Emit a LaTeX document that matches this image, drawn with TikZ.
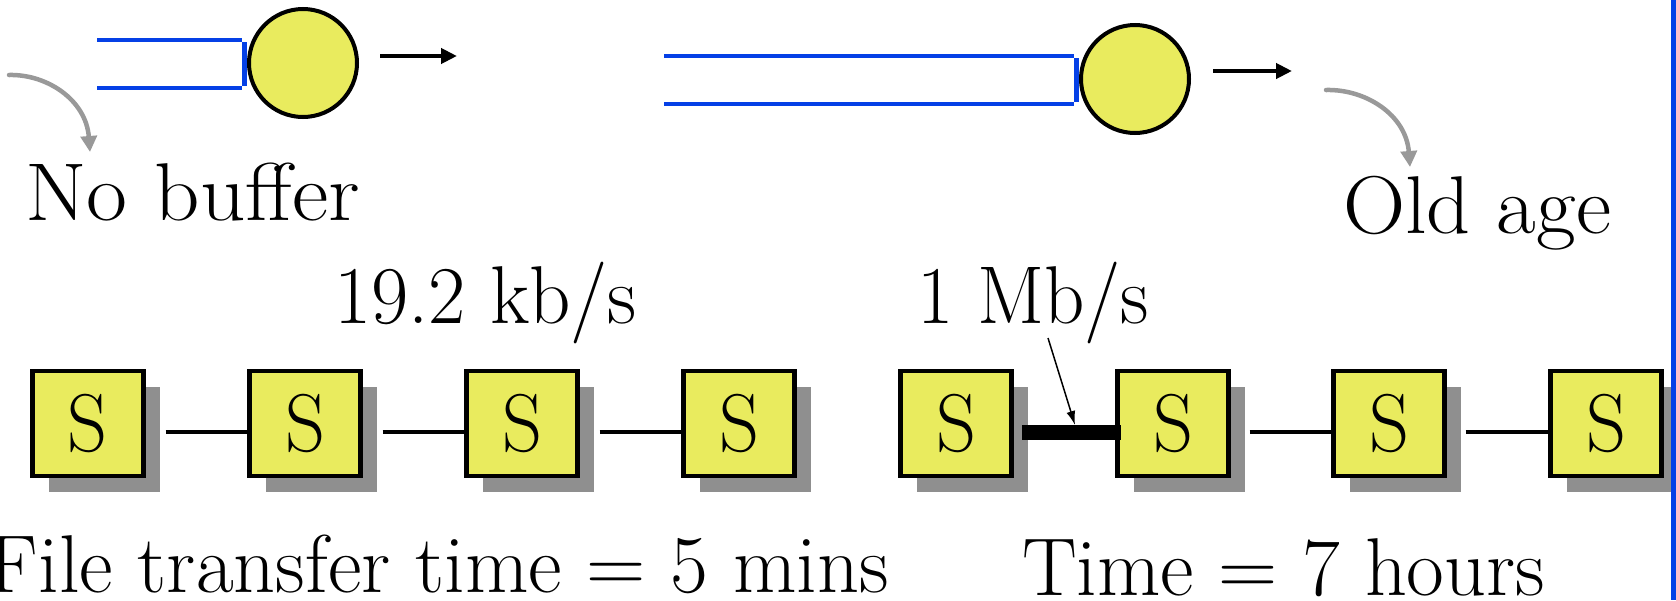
\documentclass[tikz,border=0pt]{standalone}
\usepackage{graphicx}
\usetikzlibrary{arrows.meta,shadows}
\definecolor{qyellow}{RGB}{233,235,94}
\definecolor{pipeblue}{RGB}{5,64,230}
\definecolor{shadowgray}{RGB}{143,143,143}
\definecolor{curvegray}{RGB}{153,153,153}
\newcommand{\fitw}[2]{\resizebox{#1}{\height}{#2}}
\begin{document}
\begin{tikzpicture}[x=1pt,y=-1pt,
  every node/.style={inner sep=0pt, outer sep=0pt},
  lbl/.style={font=\rmfamily\fontsize{82}{100}\selectfont},
  server/.style={circle, draw=black, line width=4pt, fill=qyellow, minimum size=108pt},
  pipe/.style={draw=pipeblue, line width=4.5pt},
  pipeend/.style={draw=pipeblue, line width=5pt},
  outarrow/.style={line width=4pt, -{Triangle[length=16pt,width=15pt]}},
  curvearrow/.style={draw=curvegray, line width=4.5pt, line cap=round, -{Triangle[length=16pt,width=16pt]}},
  sbox/.style={rectangle, draw=black, line width=4.5pt, fill=qyellow, minimum width=111pt, minimum height=105pt, font=\rmfamily\fontsize{82}{100}\selectfont, drop shadow={shadow xshift=16pt, shadow yshift=-16pt, fill=shadowgray, opacity=1}},
  link/.style={line width=4pt},
  fastlink/.style={line width=15pt},
  pointer/.style={line width=1.5pt, -{Latex[length=14pt,width=9pt]}}
]
\useasboundingbox (0,0) rectangle (1676,600);

% queues
\draw[pipe] (97,40) -- (242,40);
\draw[pipe] (97,88) -- (242,88);
\draw[pipeend] (244.5,42) -- (244.5,86);
\node[server] (q1) at (303,63) {};
\coordinate (o1s) at (380,56);
\coordinate (o1e) at (457,56);
\draw[outarrow] (o1s) -- (o1e);

\draw[pipe] (664,56) -- (1074,56);
\draw[pipe] (664,104) -- (1074,104);
\draw[pipeend] (1076.5,58) -- (1076.5,102);
\node[server] (q2) at (1135,79) {};
\coordinate (o2s) at (1213,71);
\coordinate (o2e) at (1292,71);
\draw[outarrow] (o2s) -- (o2e);

% labels
\node[lbl, anchor=base west] (nobuf) at (25,220) {\fitw{335pt}{No buffer}};
\node[lbl, anchor=base west] (oldage) at (1343,233) {\fitw{268pt}{Old age}};
\node[lbl, anchor=base west] (r1) at (334,323) {\fitw{303pt}{19.2 kb/s}};
\node[lbl, anchor=base west] (r2) at (917,323) {\fitw{232pt}{1 Mb/s}};
\node[lbl, anchor=base east] (t1) at (889,592) {\fitw{900pt}{File transfer time = 5 mins}};
\node[lbl, anchor=base west] (t2) at (1022,595) {\fitw{523pt}{Time = 7 hours}};

% curved gray arrows
\coordinate (c1s) at (9,75);
\coordinate (c1e) at (90,152);
\draw[curvearrow] (c1s) .. controls (47,74) and (86,100) .. (c1e);
\coordinate (c2s) at (1326,90);
\coordinate (c2e) at (1410,167);
\draw[curvearrow] (c2s) .. controls (1366,89) and (1406,115) .. (c2e);

% switches
\foreach \i/\x in {1/88,2/305,3/522,4/739,5/956,6/1173,7/1389,8/1606}
  \node[sbox] (s\i) at (\x,423.5) {\fitw{40pt}{S}};

% links
\draw[link] ([shift={(22,8.5)}]s1.east) -- ([shift={(0,8.5)}]s2.west);
\draw[link] ([shift={(22,8.5)}]s2.east) -- ([shift={(0,8.5)}]s3.west);
\draw[link] ([shift={(22,8.5)}]s3.east) -- ([shift={(0,8.5)}]s4.west);
\draw[fastlink] ([shift={(10.5,9)}]s5.east) -- ([shift={(3,9)}]s6.west);
\draw[link] ([shift={(21,8.5)}]s6.east) -- ([shift={(0,8.5)}]s7.west);
\draw[link] ([shift={(21,8.5)}]s7.east) -- ([shift={(0,8.5)}]s8.west);

% pointer to fast link
\coordinate (ps) at (1048,338);
\coordinate (pe) at (1075,425);
\draw[pointer] (ps) -- (pe);

% right edge bar
\draw[pipeblue, line width=5pt] (1673.5,0) -- (1673.5,600);
\end{tikzpicture}
\end{document}
